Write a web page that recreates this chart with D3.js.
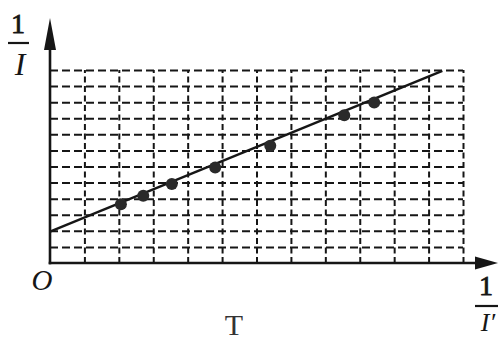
<!DOCTYPE html>
<html>
<head>
<meta charset="utf-8">
<script src="https://cdn.jsdelivr.net/npm/d3@7"></script>
<style>
  html, body { margin: 0; padding: 0; background: #fff; }
  svg { display: block; }
</style>
</head>
<body>
<div id="chart"></div>
<script>
// Données (unités = carreaux de la grille)
const xVals = [2.06, 2.71, 3.54, 4.80, 6.40, 8.55, 9.42]
const yVals = [3.65, 4.18, 4.91, 5.94, 7.29, 9.19, 9.98]
// droite ajustée : deux extrémités
const fitX = [0, 11.4]
const fitY = [1.95, 11.95]
// lignes de la grille (12 x 12 carreaux)
const gridX = [1, 2, 3, 4, 5, 6, 7, 8, 9, 10, 11, 12]
const gridY = [1, 2, 3, 4, 5, 6, 7, 8, 9, 10, 11, 12]

const W = 500, H = 340
const ink = "#161616"
const serif = "\"Liberation Serif\", \"DejaVu Serif\", serif"

const svg = d3.select("#chart").append("svg")
  .attr("width", W).attr("height", H)
  .attr("viewBox", `0 0 ${W} ${H}`)

const x = d3.scaleLinear().domain([0, 12]).range([50, 463])
const y = d3.scaleLinear().domain([0, 12]).range([263, 70])

// --- grille en pointillés ---
svg.append("g")
  .attr("transform", `translate(0,${y(0)})`)
  .call(d3.axisBottom(x).tickValues(gridX).tickSize(-(y(0) - y(12))).tickFormat(""))
  .call(s => s.select(".domain").remove())
  .call(s => s.selectAll("line")
    .attr("stroke", ink).attr("stroke-width", 2).attr("stroke-dasharray", "6 3.5"))

svg.append("g")
  .attr("transform", `translate(${x(0)},0)`)
  .call(d3.axisLeft(y).tickValues(gridY).tickSize(-(x(12) - x(0))).tickFormat(""))
  .call(s => s.select(".domain").remove())
  .call(s => s.selectAll("line")
    .attr("stroke", ink).attr("stroke-width", 2).attr("stroke-dasharray", "8 4"))

// --- axes avec flèches ---
svg.append("line")
  .attr("x1", x(0)).attr("x2", x(0)).attr("y1", y(0) + 1.3).attr("y2", 40)
  .attr("stroke", ink).attr("stroke-width", 2.6)
svg.append("path")
  .attr("d", `M ${x(0)} 18 L ${x(0) + 6} 50 L ${x(0) - 6} 50 Z`)
  .attr("fill", ink)

svg.append("line")
  .attr("x1", x(0) - 1.3).attr("x2", 480).attr("y1", y(0)).attr("y2", y(0))
  .attr("stroke", ink).attr("stroke-width", 2.6)
svg.append("path")
  .attr("d", `M 498 ${y(0)} L 475 ${y(0) - 6.5} L 475 ${y(0) + 6.5} Z`)
  .attr("fill", ink)

// --- droite ---
svg.append("line")
  .attr("x1", x(fitX[0])).attr("y1", y(fitY[0]))
  .attr("x2", x(fitX[1])).attr("y2", y(fitY[1]))
  .attr("stroke", ink).attr("stroke-width", 2.4)

// --- points ---
svg.append("g").selectAll("circle")
  .data(xVals.map((v, i) => [v, yVals[i]]))
  .join("circle")
  .attr("cx", d => x(d[0])).attr("cy", d => y(d[1]))
  .attr("r", 6).attr("fill", "#2a2a2a")

// --- libellés ---
function frac(cx, yNum, yBar, yDen, x1, x2, den, size) {
  svg.append("text").attr("x", cx).attr("y", yNum).attr("text-anchor", "middle")
    .attr("font-family", serif).attr("font-size", 28)
    .attr("fill", ink).attr("stroke", ink).attr("stroke-width", 0.8)
    .text("1")
  svg.append("line").attr("x1", x1).attr("x2", x2).attr("y1", yBar).attr("y2", yBar)
    .attr("stroke", ink).attr("stroke-width", 2.2)
  svg.append("text").attr("x", cx + 2).attr("y", yDen).attr("text-anchor", "middle")
    .attr("font-family", serif).attr("font-style", "italic").attr("font-size", size)
    .attr("fill", ink).text(den)
}
frac(18, 33, 43, 75, 8, 29, "I", 32)
frac(486, 295, 306, 331, 475, 498, "I′", 26)

svg.append("text").attr("x", 42).attr("y", 290).attr("text-anchor", "middle")
  .attr("font-family", serif).attr("font-style", "italic").attr("font-size", 29)
  .attr("fill", ink).text("O")

svg.append("text").attr("x", 234).attr("y", 335).attr("text-anchor", "middle")
  .attr("font-family", serif).attr("font-size", 30)
  .attr("fill", "#333").text("T")
</script>
</body>
</html>
